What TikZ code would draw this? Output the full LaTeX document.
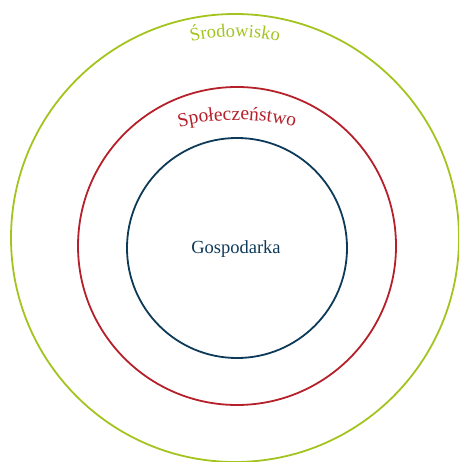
\documentclass[tikz,border=0pt]{standalone}
\usepackage{fontspec}
\setmainfont{Liberation Serif}
\usetikzlibrary{decorations.text}
\definecolor{envgreen}{HTML}{A3C41E}
\definecolor{socred}{HTML}{B5202A}
\definecolor{ecoblue}{HTML}{0E3A5A}
\tikzset{
  ring/.style={circle, draw, line width=1.8pt, inner sep=0pt, fill=none},
}
\begin{document}
\begin{tikzpicture}[x=1pt,y=1pt]
\useasboundingbox (0,0) rectangle (459,462);
\begin{scope}
\clip (0,0) rectangle (459,462);
\node[ring, draw=envgreen, minimum size=448pt] (outer) at (235,224) {};
\end{scope}
\node[ring, draw=socred, minimum size=318pt] (middle) at (237,216) {};
\node[ring, draw=ecoblue, minimum size=220pt] (inner) at (237,214) {};
\node[anchor=base, text=ecoblue, font=\fontsize{18.5}{22}\selectfont] (eco) at (236,208) {Gospodarka};
\path[decorate, decoration={text along path, text align=center,
  text={|\fontsize{18.5}{22}\selectfont\color{envgreen}|Środowisko}}]
  (235,225) ++(120:200) arc[start angle=120, end angle=60, radius=200];
\path[decorate, decoration={text along path, text align=center,
  text={|\fontsize{19.5}{23}\selectfont\color{socred}|Społeczeństwo}}]
  (237,102) ++(110:240) arc[start angle=110, end angle=70, radius=240];
\end{tikzpicture}
\end{document}
